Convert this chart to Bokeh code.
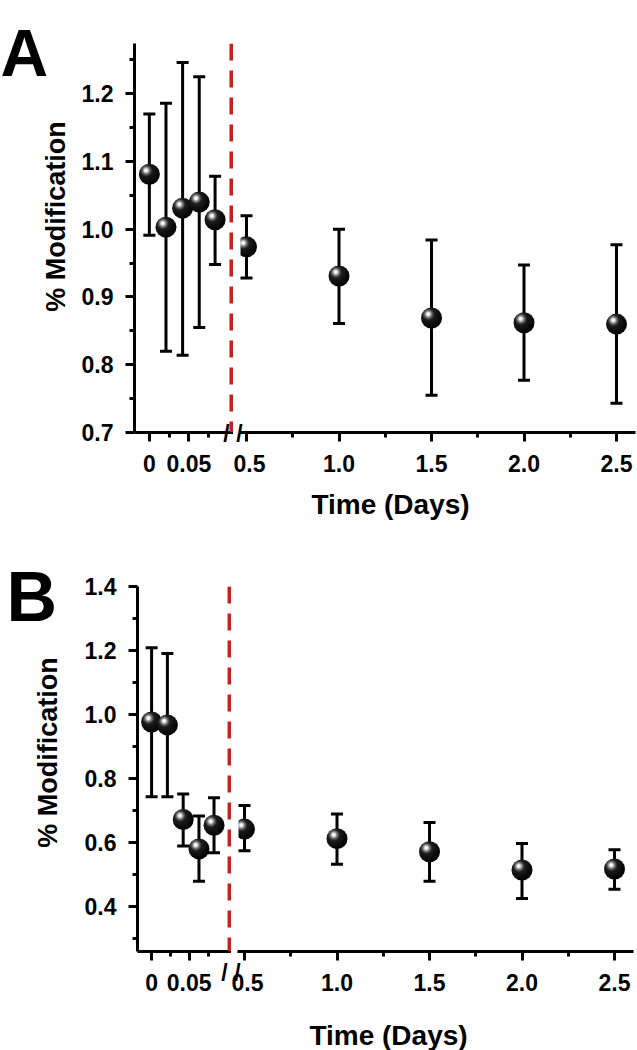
import base64
import math
from bokeh.plotting import figure
from bokeh.models import (Range1d, FixedTicker, Whisker, TeeHead, ColumnDataSource,
                          Span, Label, NumeralTickFormatter, CustomJSTickFormatter)
from bokeh.core.properties import value
from bokeh.layouts import column, row
from bokeh.embed import file_html
from bokeh.resources import INLINE

# ---------------- data ----------------
early_t = [0, 0.021, 0.042, 0.063, 0.083]      # days (first hours)
late_t = [0.5, 1.0, 1.5, 2.0, 2.5]             # days
dashed_t = 0.104                               # red dashed marker (early axis units)

a_early_mean = [1.081, 1.003, 1.031, 1.040, 1.014]
a_early_upper = [1.170, 1.186, 1.246, 1.225, 1.078]
a_early_lower = [0.991, 0.820, 0.814, 0.855, 0.948]
a_late_mean = [0.974, 0.931, 0.869, 0.862, 0.860]
a_late_upper = [1.020, 1.000, 0.984, 0.947, 0.977]
a_late_lower = [0.928, 0.861, 0.755, 0.777, 0.743]

b_early_mean = [0.976, 0.967, 0.671, 0.579, 0.653]
b_early_upper = [1.208, 1.190, 0.751, 0.682, 0.739]
b_early_lower = [0.742, 0.742, 0.588, 0.478, 0.567]
b_late_mean = [0.641, 0.611, 0.570, 0.513, 0.516]
b_late_upper = [0.715, 0.688, 0.662, 0.596, 0.576]
b_late_lower = [0.573, 0.531, 0.478, 0.424, 0.453]

early_ticks = [0, 0.05]
early_minor = [0.025, 0.075]
late_ticks = [0.5, 1.0, 1.5, 2.0, 2.5]
late_minor = [0.75, 1.25, 1.75, 2.25]

a_yticks = [0.7, 0.8, 0.9, 1.0, 1.1, 1.2]
a_yminor = [0.75, 0.85, 0.95, 1.05, 1.15, 1.25]
b_yticks = [0.4, 0.6, 0.8, 1.0, 1.2, 1.4]
b_yminor = [0.3, 0.5, 0.7, 0.9, 1.1, 1.3]

x_title = "Time (Days)"
y_title = "% Modification"

FONT = "Liberation Sans"
RED = "#c8201e"

ball_svg = (
    "<svg xmlns='http://www.w3.org/2000/svg' width='44' height='44' viewBox='0 0 44 44'>"
    "<defs><radialGradient id='g' cx='0.37' cy='0.34' r='0.66' fx='0.34' fy='0.31'>"
    "<stop offset='0' stop-color='#ffffff'/>"
    "<stop offset='0.10' stop-color='#f2f2f2'/>"
    "<stop offset='0.24' stop-color='#7a7a7a'/>"
    "<stop offset='0.42' stop-color='#1c1c1c'/>"
    "<stop offset='1' stop-color='#000000'/>"
    "</radialGradient></defs>"
    "<circle cx='22' cy='22' r='21' fill='url(#g)'/></svg>"
)
BALL = "data:image/svg+xml;base64," + base64.b64encode(ball_svg.encode()).decode()


def style_axis(ax, size="23px"):
    ax.axis_line_width = 3
    ax.axis_line_color = "black"
    ax.major_tick_line_width = 3
    ax.minor_tick_line_width = 3
    ax.major_tick_line_color = "black"
    ax.minor_tick_line_color = "black"
    ax.major_tick_in = 0
    ax.major_tick_out = 9
    ax.minor_tick_in = 0
    ax.minor_tick_out = 5
    ax.major_label_text_font = FONT
    ax.major_label_text_font_style = "bold"
    ax.major_label_text_font_size = size
    ax.major_label_text_color = "black"


def add_series(p, t, mean, upper, lower):
    src = ColumnDataSource(dict(t=t, mean=mean, upper=upper, lower=lower))
    w = Whisker(source=src, base="t", upper="upper", lower="lower", dimension="height",
                line_color="black", line_width=3, level="underlay",
                upper_head=TeeHead(size=12, line_width=3, line_color="black"),
                lower_head=TeeHead(size=12, line_width=3, line_color="black"))
    p.add_layout(w)
    p.image_url(url=value(BALL), x="t", y="mean", w=22, h=22, w_units="screen",
                h_units="screen", anchor="center", source=src)


def label(**kw):
    # canvas units: pixels from the figure canvas' top-left corner
    base = dict(x_units="canvas", y_units="canvas", text_font=FONT,
                text_font_style="bold", text_color="black")
    base.update(kw)
    return Label(**base)


def break_mark(x, y):
    return label(x=x, y=y, text="/", text_font_size="23px",
                 text_align="center", text_baseline="middle")


def panel(letter, letter_size, letter_pos, ylab_pos, xlab_pos,
          em, eu, el, lm, lu, ll, y0, y1, yt, ym,
          left_border, top_border, frame_h, bottom_border):
    yr = Range1d(y0, y1)
    h = top_border + frame_h + bottom_border
    left_w = 100
    lw = left_border + left_w
    pl = figure(width=lw, height=h,
                x_range=Range1d(-15 / 800, (left_w - 15) / 800),
                y_range=yr, output_backend="svg", toolbar_location=None,
                min_border_left=left_border, min_border_right=0,
                min_border_top=top_border, min_border_bottom=bottom_border)
    right_w = 396
    pr = figure(width=6 + right_w + 2, height=h,
                x_range=Range1d(0.5 - 7 / 185, 0.5 - 7 / 185 + right_w / 185),
                y_range=yr, output_backend="svg", toolbar_location=None, y_axis_location=None,
                min_border_left=6, min_border_right=2,
                min_border_top=top_border, min_border_bottom=bottom_border)
    for p in (pl, pr):
        p.outline_line_color = None
        p.xgrid.visible = False
        p.ygrid.visible = False
        p.background_fill_color = "white"
        p.border_fill_color = "white"
        style_axis(p.xaxis[0])

    pl.xaxis.ticker = FixedTicker(ticks=early_ticks, minor_ticks=early_minor)
    pl.xaxis.formatter = CustomJSTickFormatter(code="return tick.toString()")
    pl.xaxis.major_label_standoff = 13
    pr.xaxis.ticker = FixedTicker(ticks=late_ticks, minor_ticks=late_minor)
    pr.xaxis.formatter = NumeralTickFormatter(format="0.0")
    pr.xaxis.major_label_standoff = 13

    style_axis(pl.yaxis[0])
    pl.yaxis.ticker = FixedTicker(ticks=yt, minor_ticks=ym)
    pl.yaxis.formatter = NumeralTickFormatter(format="0.0")
    pl.yaxis.major_label_standoff = 12

    pl.add_layout(Span(location=dashed_t, dimension="height", line_color=RED,
                       line_width=4.5, line_dash="17 10"))

    add_series(pl, early_t, em, eu, el)
    add_series(pr, late_t, lm, lu, ll)

    fb = top_border + frame_h  # frame bottom in canvas px
    # axis break marks
    pl.add_layout(break_mark(lw - 7, fb + 1), "below")
    pr.add_layout(break_mark(6, fb + 1), "below")

    pl.add_layout(label(x=ylab_pos[0], y=ylab_pos[1], text=y_title, angle=math.pi / 2,
                        text_font_size="27px", text_align="center",
                        text_baseline="middle"), "left")
    pl.add_layout(label(x=letter_pos[0], y=letter_pos[1], text=letter,
                        text_font_size=letter_size, text_align="left",
                        text_baseline="alphabetic"), "left")
    pr.add_layout(label(x=xlab_pos[0] - lw, y=xlab_pos[1], text=x_title,
                        text_font_size="28px", text_align="center",
                        text_baseline="alphabetic"), "below")
    return row(pl, pr, spacing=0)


# panel A occupies canvas rows 0..540, panel B rows 540..1050
panel_a = panel("A", "66px", (0, 52), (55, 216), (390, 504),
                a_early_mean, a_early_upper, a_early_lower,
                a_late_mean, a_late_upper, a_late_lower,
                0.7, 1.274, a_yticks, a_yminor,
                left_border=133, top_border=43, frame_h=389, bottom_border=108)
panel_b = panel("B", "70px", (6, 596 - 540), (47, 752 - 540), (388, 1035 - 540),
                b_early_mean, b_early_upper, b_early_lower,
                b_late_mean, b_late_upper, b_late_lower,
                0.258, 1.4, b_yticks, b_yminor,
                left_border=131, top_border=46, frame_h=385, bottom_border=79)

layout = column(panel_a, panel_b, spacing=0)
open("out.html", "w").write(file_html(layout, INLINE))
